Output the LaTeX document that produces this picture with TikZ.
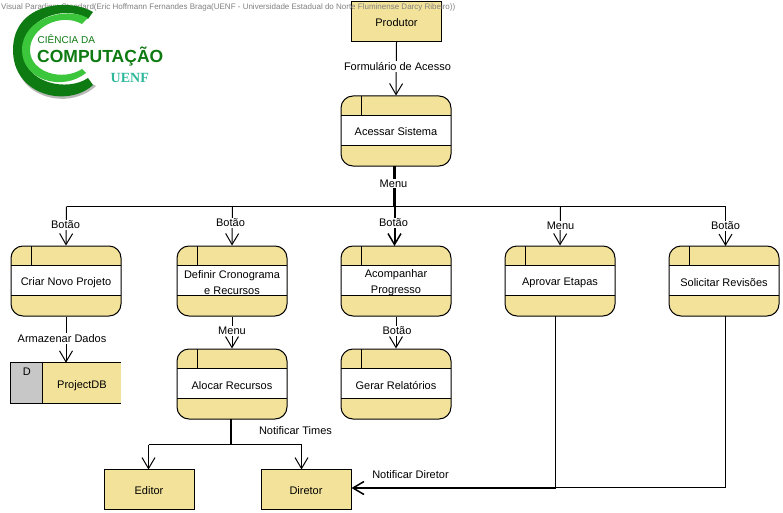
\documentclass[tikz,border=0pt]{standalone}
\usepackage{fontspec}
\setmainfont{Liberation Sans}
\newfontfamily\serifb{Liberation Serif}
\usetikzlibrary{arrows.meta,calc}
\definecolor{boxy}{HTML}{F2E29A}
\definecolor{darkg}{HTML}{0E7A12}
\definecolor{lightg}{HTML}{3CC63C}
\definecolor{uenfc}{HTML}{2DB89A}
\newcommand{\dn}[1]{\raisebox{-1.6pt}[\height][\depth]{#1}}
\newcommand{\dnb}[1]{\raisebox{-0.7pt}[\height][\depth]{#1}}
\tikzset{
  basefont/.style={font=\fontsize{11}{16}\selectfont},
  extbox/.style={draw,line width=1pt,fill=boxy,minimum width=90pt,minimum height=39pt,inner sep=0pt,basefont},
  procbox/.style={draw,line width=1pt,fill=boxy,rounded corners=12pt,minimum width=110pt,minimum height=70pt,inner sep=0pt,align=center,basefont,
    path picture={
      \begin{scope}[sharp corners]
      \fill[white] ($(path picture bounding box.north west)+(0,19.5)$) rectangle ($(path picture bounding box.north east)+(0,49.5)$);
      \draw[line width=1pt] ($(path picture bounding box.north west)+(0,19.5)$) -- ($(path picture bounding box.north east)+(0,19.5)$);
      \draw[line width=1pt] ($(path picture bounding box.north west)+(0,49.5)$) -- ($(path picture bounding box.north east)+(0,49.5)$);
      \draw[line width=1pt] ($(path picture bounding box.north west)+(20,0)$) -- ($(path picture bounding box.north west)+(20,19.5)$);
      \end{scope}
    }},
  storebox/.style={fill=boxy,minimum width=110pt,minimum height=40pt,inner sep=0pt,basefont,text depth=0pt},
  flow/.style={line width=1pt,-{Straight Barb[length=11pt,width=13pt,line width=1pt]}},
  flowthick/.style={line width=2pt,-{Straight Barb[length=11pt,width=13pt,line width=1.5pt]}},
  plain/.style={line width=1pt},
  thickline/.style={line width=2.6pt},
  flowlabel/.style={fill=white,inner xsep=1pt,inner ysep=1pt,basefont,font=\fontsize{11}{12}\selectfont},
}
\begin{document}
\begin{tikzpicture}[x=1pt,y=-1pt]
\useasboundingbox (0,0) rectangle (783,513);
\fill[white] (0,0) rectangle (783,513);
\node[extbox,minimum height=40pt] (prod) at (396.5,21.5) {\dnb{Produtor}};
% watermark
\node[anchor=west,inner sep=0pt,text=black!50,font=\fontsize{8}{10}\selectfont] (wm) at (1,7) {Visual Paradigm Standard(Eric Hoffmann Fernandes Braga(UENF - Universidade Estadual do Norte Fluminense Darcy Ribeiro))};
% logo
\fill[black!28] (20,75) .. controls (32,100) and (72,108) .. (96,86) -- (92,84) .. controls (68,100) and (32,94) .. (20,75) -- cycle;
\fill[darkg] (93,12) .. controls (70,-2) and (13,2) .. (13,50) .. controls (13,96) and (68,108) .. (93,85) -- (88,78) .. controls (68,92) and (23,84) .. (23,50) .. controls (23,18) and (66,4) .. (88,19) -- cycle;
\fill[lightg] (88,18) .. controls (66,6) and (22,18) .. (22,50) .. controls (22,80) and (62,92) .. (86,73) -- (82,69) .. controls (62,82) and (30,72) .. (30,50) .. controls (30,28) and (60,12) .. (82,24) -- cycle;
\node[anchor=west,inner sep=0pt,text=darkg,font=\fontsize{10}{12}\selectfont] (lg1) at (37.5,39.5) {CIÊNCIA DA};
\node[anchor=west,inner sep=0pt,text=darkg,font=\bfseries\fontsize{17.5}{20}\selectfont] (lg2) at (37,57) {COMPUTAÇÃO};
\node[anchor=west,inner sep=0pt,text=uenfc,font=\serifb\bfseries\fontsize{14}{16}\selectfont] (lg3) at (110.5,78) {UENF};
% nodes
\node[procbox] (acessar) at (396,131) {\dnb{Acessar Sistema}};
\node[procbox] (criar) at (66,281) {\dn{Criar Novo Projeto}};
\node[procbox] (definir) at (232,281) {\dn{Definir Cronograma}\\\dn{e Recursos}};
\node[procbox] (acomp) at (396,281) {\dn{Acompanhar}\\\dn{Progresso}};
\node[procbox] (aprovar) at (560,281) {\dn{Aprovar Etapas}};
\node[procbox] (solic) at (724,281) {\dn{Solicitar Revisões}};
\node[procbox] (alocar) at (232,384) {\dn{Alocar Recursos}};
\node[procbox] (gerar) at (396,384) {\dn{Gerar Relatórios}};
\node[extbox,minimum height=40pt] (editor) at (149,489.5) {\dnb{Editor}};
\node[extbox,minimum height=40pt] (diretor) at (306,489.5) {\dnb{Diretor}};
\node[storebox] (db) at (66,383) {\hspace*{32pt}\dn{ProjectDB}};
\fill[black!22] (db.north west) rectangle ($(db.south west)+(32,0)$);
\draw[line width=1pt] (db.north east) -- (db.north west) -- (db.south west) -- (db.south east);
\draw[line width=1pt] ($(db.north west)+(32,0)$) -- ($(db.south west)+(32,0)$);
\node[basefont,inner sep=0pt] (dbd) at ($(db.north west)+(16,9)$) {D};
% junctions
\coordinate (busC) at (394.5,206.5);
\coordinate (busL) at (66.5,206.5);
\coordinate (busD) at (232.5,206.5);
\coordinate (busA) at (560.5,206.5);
\coordinate (busR) at (725.5,206.5);
\coordinate (tj) at (231,444.5);
\coordinate (tjL) at (148.5,444.5);
\coordinate (tjR) at (301.5,444.5);
\coordinate (dirIn) at (555.5,488);
\coordinate (solTurn) at (725.5,487.5);
% connectors
\draw[flow] (prod.south) -- (acessar.north);
\draw[thickline] (394.5,166) -- (busC);
\draw[plain] (busL) -- (busR);
\draw[flow] (busL) -- (criar.north);
\draw[flow] (busD) -- (definir.north);
\draw[flowthick] (busC) -- (394.5,246);
\draw[flow] (busA) -- (aprovar.north);
\draw[flow] (busR) -- (725.5,246);
\draw[flow] (criar.south) -- (db.north);
\draw[flow] (definir.south) -- (alocar.north);
\draw[flow] (acomp.south) -- (gerar.north);
\draw[thickline] (231,419) -- (tj);
\draw[plain] (tjL) -- (tjR);
\draw[flow] (tjL) -- (148.5,469.5);
\draw[flow] (tjR) -- (301.5,469.5);
\draw[plain] (555.5,316) -- (dirIn);
\draw[plain] (725.5,316) -- (solTurn) -- (555.5,487.5);
\draw[flowthick] (dirIn) -- (diretor.east |- dirIn);
% labels
\node[flowlabel] (l1) at (397.5,66.5) {Formulário de Acesso};
\node[flowlabel] (l2) at (393.5,183.5) {Menu};
\node[flowlabel] (l3) at (65.5,225) {Botão};
\node[flowlabel] (l4) at (230.5,223) {Botão};
\node[flowlabel] (l5) at (393.5,223) {Botão};
\node[flowlabel] (l6) at (560.5,225.5) {Menu};
\node[flowlabel] (l7) at (725.5,225.5) {Botão};
\node[flowlabel] (l8) at (62,338.5) {Armazenar Dados};
\node[flowlabel] (l9) at (232,331) {Menu};
\node[flowlabel] (l10) at (397,331) {Botão};
\node[flowlabel,fill=none] (l11) at (295.5,430.5) {Notificar Times};
\node[flowlabel,fill=none] (l12) at (410.5,474.5) {Notificar Diretor};
\end{tikzpicture}
\end{document}
